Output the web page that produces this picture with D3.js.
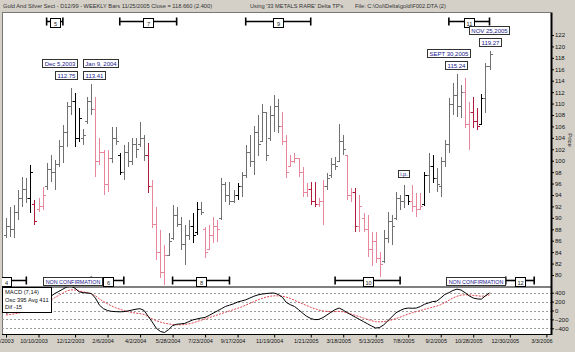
<!DOCTYPE html>
<html>
<head>
<meta charset="utf-8">
<title>Gold And Silver Sect - weekly bars</title>
<script src="https://cdn.jsdelivr.net/npm/d3@7"></script>
<style>
  body { margin: 0; background: #d4d0c8; }
  svg { display: block; font-family: "Liberation Sans", Arial, sans-serif; }
</style>
</head>
<body>
<svg id="chart" width="575" height="352"></svg>
<script>
// one bar per week, the first one is the week ending Fri 15 Aug 2003
var firstBar = "2003-08-15";

var highs = [
  90.0, 91.9, 92.2, 94.9, 97.2, 97.0, 99.2, 93.1, 93.5, 95.4,
  99.6, 101.0, 100.1, 103.6, 106.3, 110.3, 112.75, 111.8, 109.2, 105.5,
  111.1, 113.41, 111.1, 104.0, 101.9, 101.9, 105.9, 105.9, 101.3, 102.7,
  103.3, 104.0, 104.0, 106.8, 104.5, 103.1, 96.6, 91.9, 87.9, 85.2,
  87.3, 92.2, 91.9, 90.1, 88.7, 89.6, 90.8, 92.8, 92.8, 88.4,
  88.7, 90.1, 89.6, 97.0, 96.3, 96.3, 94.9, 96.1, 98.0, 102.7,
  104.5, 106.0, 108.0, 110.0, 108.5, 109.5, 111.5, 110.8, 108.5, 104.5,
  101.0, 101.3, 100.5, 98.9, 96.1, 96.3, 96.3, 93.5, 96.6, 97.8,
  100.5, 100.6, 106.5, 104.5, 101.0, 95.2, 95.2, 94.0, 90.8, 90.5,
  87.5, 87.5, 84.0, 87.9, 91.0, 90.5, 94.5, 94.0, 95.7, 94.0,
  95.7, 94.3, 94.3, 98.0, 101.3, 101.0, 98.7, 100.6, 103.6, 111.0,
  113.6, 115.24, 113.2, 114.5, 110.3, 111.1, 109.2, 111.7, 117.1, 119.27
];
var lows = [
  86.5, 86.6, 86.5, 89.6, 91.9, 92.6, 90.8, 88.7, 91.0, 91.4,
  94.9, 96.3, 94.9, 98.9, 99.6, 102.4, 108.0, 102.4, 103.3, 102.8,
  106.5, 108.0, 97.1, 99.2, 94.0, 94.5, 99.6, 102.8, 97.5, 96.6,
  98.9, 99.2, 100.5, 102.4, 100.0, 94.3, 88.2, 82.6, 79.5, 78.3,
  83.5, 86.1, 88.4, 84.4, 81.7, 86.1, 85.6, 87.0, 90.5, 83.0,
  84.4, 85.6, 85.8, 89.6, 92.8, 92.2, 92.6, 93.1, 93.6, 97.0,
  98.9, 97.5, 100.8, 103.3, 99.9, 103.5, 105.0, 104.8, 102.7, 97.0,
  98.9, 99.6, 97.1, 93.6, 93.6, 92.2, 91.9, 91.9, 88.7, 94.9,
  97.0, 98.4, 99.8, 101.0, 93.1, 92.8, 87.5, 87.5, 87.5, 83.1,
  81.5, 82.1, 79.6, 82.1, 85.6, 85.2, 89.6, 91.4, 91.7, 92.2,
  91.0, 90.1, 91.4, 92.0, 94.3, 96.1, 94.5, 93.6, 98.9, 101.3,
  108.0, 107.6, 107.5, 105.7, 101.9, 105.7, 105.4, 106.2, 108.4, 115.9
];
var opens = [
  87.0, 88.5, 88.0, 91.0, 93.5, 95.0, 93.5, 92.5, 91.5, 92.0,
  95.5, 98.5, 98.0, 99.5, 102.5, 105.0, 109.5, 110.5, 104.0, 104.0,
  107.0, 110.5, 109.0, 100.0, 101.5, 96.0, 100.5, 104.0, 101.0, 98.0,
  101.5, 100.0, 103.0, 103.0, 104.0, 101.0, 95.5, 89.0, 84.0, 80.5,
  83.5, 86.5, 90.5, 89.0, 85.5, 87.0, 88.5, 87.5, 91.5, 88.0,
  84.5, 87.0, 88.5, 90.0, 96.0, 94.0, 93.0, 94.0, 95.5, 97.5,
  101.5, 100.0, 105.0, 103.5, 108.5, 104.0, 108.0, 109.5, 106.0, 103.5,
  99.0, 100.0, 100.5, 98.0, 94.5, 95.0, 93.0, 92.5, 93.0, 95.5,
  97.5, 99.5, 100.0, 103.5, 101.0, 94.0, 94.5, 88.5, 90.0, 88.0,
  84.5, 86.0, 83.0, 82.5, 86.5, 89.5, 90.0, 93.5, 93.0, 94.0,
  93.0, 92.0, 91.5, 92.5, 97.5, 99.0, 97.0, 95.5, 100.0, 103.0,
  110.0, 111.5, 109.5, 112.0, 106.5, 108.5, 107.0, 106.5, 111.0, 116.5
];
var closes = [
  88.5, 88.0, 91.0, 93.5, 95.0, 93.5, 98.0, 89.5, 92.0, 94.0,
  98.5, 98.0, 99.5, 102.5, 105.0, 109.5, 110.5, 104.0, 107.5, 104.5,
  110.5, 109.0, 100.0, 101.5, 96.0, 100.5, 104.0, 103.5, 98.0, 101.5,
  100.0, 103.0, 102.0, 104.0, 101.0, 95.5, 89.0, 84.0, 80.5, 83.5,
  86.0, 90.5, 89.0, 85.5, 87.0, 88.5, 87.0, 91.5, 91.0, 84.0,
  87.0, 88.5, 88.0, 96.0, 94.0, 93.0, 94.0, 95.5, 97.5, 101.5,
  100.0, 105.0, 103.0, 108.5, 101.0, 108.0, 109.5, 106.0, 103.5, 98.0,
  100.0, 100.5, 98.0, 94.5, 95.0, 93.0, 92.5, 93.0, 95.5, 97.0,
  99.5, 99.0, 103.5, 102.0, 94.0, 94.5, 88.5, 92.0, 88.0, 84.5,
  86.0, 83.0, 82.0, 86.5, 89.5, 88.5, 93.5, 93.0, 94.0, 93.0,
  92.0, 91.5, 92.0, 97.5, 99.0, 97.0, 96.0, 100.0, 103.0, 110.0,
  111.5, 109.5, 112.0, 106.5, 108.5, 107.0, 106.0, 111.0, 116.5, 118.66
];
// g = grey, k = black, p = pink, r = dark red (ten bars per group)
var barKinds = (
  "ggggggkrpp gggggggkkg ggppppggkg gggggrpppp ggggggkkgp " +
  "pppggggkgg ggggggggpp ppppprrppg ggggpprppp pppggggggk " +
  "pppkgkgggg gggpprrkgg").replace(/ /g, "").split("");

var macd = [
  -60, -40, -20, 20, 80, 120, 160, 140, 130, 150,
  220, 320, 380, 430, 480, 530, 545, 500, 420, 400,
  395, 380, 280, 120, 40, 0, -20, -25, -30, -25,
  -10, 10, 30, 40, 0, -130, -260, -400, -470, -495,
  -430, -340, -310, -300, -290, -250, -210, -190, -170, -155,
  -110, -60, -10, 40, 90, 120, 150, 190, 215, 240,
  280, 320, 350, 370, 380, 390, 392, 360, 300, 180,
  130, 90, 20, -60, -130, -180, -205, -200, -160, -100,
  -40, 20, 55, 10, -50, -100, -150, -200, -250, -300,
  -350, -395, -380, -320, -230, -140, -50, 0, 40, 55,
  50, 55, 90, 140, 170, 200, 210, 280, 360, 400,
  450, 480, 460, 400, 330, 280, 260, 255, 330, 395
];
var macdAvg = [
  -100, -90, -75, -60, -40, -10, 30, 60, 90, 120,
  170, 230, 290, 340, 390, 440, 465, 460, 440, 420,
  400, 380, 330, 260, 200, 150, 100, 60, 30, 0,
  -25, -45, -60, -70, -90, -140, -190, -230, -260, -285,
  -300, -315, -320, -322, -315, -300, -280, -250, -220, -190,
  -160, -130, -100, -70, -40, -10, 20, 50, 80, 120,
  160, 200, 240, 270, 300, 320, 330, 330, 320, 300,
  270, 230, 190, 150, 110, 75, 40, 10, -10, -20,
  -25, -25, -20, -30, -50, -80, -110, -140, -170, -200,
  -230, -250, -255, -250, -235, -210, -180, -150, -115, -80,
  -50, -25, 0, 25, 50, 75, 100, 130, 180, 230,
  280, 320, 345, 355, 350, 340, 330, 320, 330, 350
];

var dateTicks = ["2003-08-15", "2003-10-10", "2003-12-12", "2004-02-06", "2004-04-02",
  "2004-05-28", "2004-07-23", "2004-09-17", "2004-11-19", "2005-01-21", "2005-03-18",
  "2005-05-13", "2005-07-08", "2005-09-02", "2005-10-28", "2005-12-30", "2006-03-03"];
var priceTicks = [80, 82, 84, 86, 88, 90, 92, 94, 96, 98, 100, 102, 104, 106, 108, 110,
  112, 114, 116, 118, 120, 122];
var macdTicks = [-400, -200, 0, 200, 400];

// cycle windows (Delta turning points)
var cycleNums  = ["4", "5", "6", "7", "8", "9", "10", "11", "12"];
var cycleRow   = ["bottom", "top", "bottom", "top", "bottom", "top", "bottom", "top", "bottom"];
var cycleStart = ["2003-07-11", "2003-10-24", "2004-01-09", "2004-02-27", "2004-05-28",
  "2004-10-01", "2005-03-04", "2005-09-16", "2005-12-23"];
var cycleEnd   = ["2003-09-19", "2003-11-21", "2004-03-05", "2004-06-04", "2004-09-03",
  "2005-01-21", "2005-06-24", "2005-11-25", "2006-02-10"];
var nonConfDates = ["2003-12-07", "2005-11-01"];

// called highs
var callDates  = ["2003-12-05", "2004-01-09", "2005-09-30", "2005-11-25"];
var callTitles = ["Dec 5,2003", "Jan 9, 2004", "SEPT 30,2005", "NOV 25,2005"];
var callPrices = [112.75, 113.41, 115.24, 119.27];
var noteDates  = ["2005-07-01"];
var noteTexts  = ["i.p."];
var notePrices = [95.7];

var svg = d3.select("#chart");
var plotL = 2, plotR = 551, plotT = 12.5, plotSplit = 287, plotB = 334.5;

var parseDate = d3.timeParse("%Y-%m-%d");
var start = parseDate(firstBar);
var weeks = highs.map(function(d, i) { return d3.timeDay.offset(start, 7 * i); });

var x = d3.scaleTime()
    .domain([start, weeks[weeks.length - 1]])
    .range([6, 489.5]);
var y = d3.scaleLinear().domain([80, 122]).range([275, 35]);
var ym = d3.scaleLinear().domain([-400, 400]).range([328.3, 292.7]);

// backgrounds and clips
svg.append("rect").attr("width", 575).attr("height", 352).attr("fill", "#d4d0c8");
svg.append("rect")
    .attr("x", plotL).attr("y", plotT)
    .attr("width", plotR - plotL).attr("height", plotB - plotT)
    .attr("fill", "#fff");

var defs = svg.append("defs");
defs.append("clipPath").attr("id", "price-clip").append("rect")
    .attr("x", plotL).attr("y", plotT).attr("width", plotR - plotL).attr("height", plotSplit - plotT);
defs.append("clipPath").attr("id", "macd-clip").append("rect")
    .attr("x", plotL).attr("y", plotSplit).attr("width", plotR - plotL).attr("height", plotB - plotSplit);

// title strip
var title = svg.append("g").attr("font-size", 5.7).attr("fill", "#333");
title.append("text").attr("x", 3).attr("y", 7.5)
    .text("Gold And Silver Sect - D12/99  - WEEKLY Bars  11/25/2005 Close = 118.660 (2.400)");
title.append("text").attr("x", 250).attr("y", 7.5).text("Using '33 METALS RARE' Delta TP's");
title.append("text").attr("x", 355).attr("y", 7.5).text("File: C:\\Ool\\Delta\\gold\\F002.DTA (2)");

// frame
svg.append("line").attr("x1", plotL).attr("x2", plotR).attr("y1", plotT).attr("y2", plotT)
    .attr("stroke", "#777");
svg.append("line").attr("x1", plotL + 0.5).attr("x2", plotL + 0.5).attr("y1", plotT).attr("y2", plotB)
    .attr("stroke", "#777");
svg.append("line").attr("x1", plotL).attr("x2", plotR).attr("y1", plotSplit).attr("y2", plotSplit)
    .attr("stroke", "#000");

// OHLC bars
var barColor = { g: "#707070", k: "#000000", p: "#e8869b", r: "#b01c3c" };

var bar = svg.append("g")
    .attr("clip-path", "url(#price-clip)")
    .attr("shape-rendering", "crispEdges")
  .selectAll("g")
  .data(weeks)
  .enter().append("g")
    .attr("stroke", function(d, i) { return barColor[barKinds[i]]; })
    .attr("transform", function(d) { return "translate(" + (Math.round(x(d)) + 0.5) + ",0)"; });

bar.append("line")
    .attr("y1", function(d, i) { return y(highs[i]); })
    .attr("y2", function(d, i) { return y(lows[i]); });
bar.append("line")
    .attr("x1", -2.5).attr("x2", 0)
    .attr("y1", function(d, i) { return Math.round(y(opens[i])) + 0.5; })
    .attr("y2", function(d, i) { return Math.round(y(opens[i])) + 0.5; });
bar.append("line")
    .attr("x1", 0).attr("x2", 2.5)
    .attr("y1", function(d, i) { return Math.round(y(closes[i])) + 0.5; })
    .attr("y2", function(d, i) { return Math.round(y(closes[i])) + 0.5; });

// boxed label helper
function boxLabel(parent, px, bottomY, str, anchor, opt) {
  var g = parent.append("g");
  var t = g.append("text")
      .attr("font-size", opt.size)
      .attr("fill", opt.color)
      .attr("text-anchor", "middle")
      .text(str);
  var w = Math.max(opt.minW || 0, Math.round(t.node().getComputedTextLength() + opt.pad));
  var h = opt.h;
  var x0 = anchor == "end" ? px - w : anchor == "start" ? px : px - w / 2;
  x0 = Math.round(x0) + 0.5;
  var y0 = Math.round(bottomY - h) + 0.5;
  g.insert("rect", "text")
      .attr("x", x0).attr("y", y0)
      .attr("width", w).attr("height", h)
      .attr("fill", "#fff")
      .attr("stroke", opt.stroke)
      .attr("stroke-width", 1);
  t.attr("x", x0 + w / 2).attr("y", y0 + h - 2);
  return g;
}

// cycle markers
var markY = { top: 21.5, bottom: 280.5 };
var marks = svg.append("g").attr("clip-path", "url(#price-clip)");
cycleNums.forEach(function(n, i) {
  var yy = markY[cycleRow[i]];
  var x0 = x(parseDate(cycleStart[i])), x1 = x(parseDate(cycleEnd[i]));
  var g = marks.append("g").attr("stroke", "#000").attr("stroke-width", 1.6);
  g.append("line").attr("x1", x0).attr("x2", x1).attr("y1", yy).attr("y2", yy);
  g.append("line").attr("x1", x0).attr("x2", x0).attr("y1", yy - 4).attr("y2", yy + 4);
  g.append("line").attr("x1", x1).attr("x2", x1).attr("y1", yy - 4).attr("y2", yy + 4);
  boxLabel(marks, (x0 + x1) / 2, yy + 5, n, "middle",
      { size: 5.6, color: "#222", pad: 4, minW: 10, h: 9, stroke: "#000" });
});

nonConfDates.forEach(function(d) {
  boxLabel(marks, x(parseDate(d)), markY.bottom + 4, "NON CONFIRMATION", "middle",
      { size: 5.4, color: "#20208c", pad: 4, h: 8, stroke: "#333" });
});

// called highs
var calls = svg.append("g");
var callAnchor = ["end", "start", "middle", "middle"];
var titleDx = [6, -8, -8, -1];
var priceDx = [6, -8, -1, 0];
callDates.forEach(function(d, i) {
  var px = x(parseDate(d));
  var level = i < 2 ? Math.max(callPrices[0], callPrices[1]) : callPrices[i];
  var priceBottom = y(level) - 5;
  boxLabel(calls, px + priceDx[i], priceBottom, d3.format(".2f")(callPrices[i]), callAnchor[i],
      { size: 6, color: "#20208c", pad: 4, h: 8, stroke: "#333" });
  boxLabel(calls, px + titleDx[i], priceBottom - 12, callTitles[i], callAnchor[i],
      { size: 6, color: "#20208c", pad: 4, h: 8, stroke: "#333" });
});
noteDates.forEach(function(d, i) {
  boxLabel(calls, x(parseDate(d)) - 1, y(notePrices[i]) - 8, noteTexts[i], "middle",
      { size: 5.6, color: "#20208c", pad: 4, h: 7, stroke: "#333" });
});

// MACD panel
var macdG = svg.append("g").attr("clip-path", "url(#macd-clip)");
macdG.selectAll(".grid")
  .data(macdTicks)
  .enter().append("line")
    .attr("class", "grid")
    .attr("x1", plotL).attr("x2", plotR)
    .attr("y1", function(d) { return Math.round(ym(d)) + 0.5; })
    .attr("y2", function(d) { return Math.round(ym(d)) + 0.5; })
    .attr("stroke", "#9a9a9a")
    .attr("stroke-dasharray", "2,2");

var macdLine = d3.line()
    .x(function(d, i) { return x(weeks[i]); })
    .y(function(d) { return ym(d); });

macdG.append("path")
    .datum(macdAvg)
    .attr("d", macdLine)
    .attr("fill", "none")
    .attr("stroke", "#e0303a")
    .attr("stroke-width", 0.9)
    .attr("stroke-dasharray", "2,1.2");
macdG.append("path")
    .datum(macd)
    .attr("d", macdLine)
    .attr("fill", "none")
    .attr("stroke", "#000")
    .attr("stroke-width", 1);

var info = svg.append("g");
info.append("rect")
    .attr("x", plotL + 0.5).attr("y", plotSplit + 0.5)
    .attr("width", 49).attr("height", 25)
    .attr("fill", "#fff").attr("stroke", "#000");
info.selectAll("text")
  .data(["MACD (7,14)", "Osc 395 Avg 411", "Dif -15"])
  .enter().append("text")
    .attr("x", 5)
    .attr("y", function(d, i) { return plotSplit + 7 + i * 7.6; })
    .attr("font-size", 5.8)
    .attr("fill", "#111")
    .text(function(d) { return d; });

// right axes
var priceAxis = svg.append("g")
    .attr("transform", "translate(" + plotR + ",0)")
    .call(d3.axisRight(y).tickValues(priceTicks).tickSize(3).tickPadding(1)
      .tickFormat(d3.format("d")));
var macdAxis = svg.append("g")
    .attr("transform", "translate(" + plotR + ",0)")
    .call(d3.axisRight(ym).tickValues(macdTicks).tickSize(3).tickPadding(1)
      .tickFormat(d3.format("d")));
[priceAxis, macdAxis].forEach(function(a) {
  a.select(".domain").remove();
  a.selectAll("text").attr("font-size", 6).attr("font-family", null).attr("fill", "#111");
  a.selectAll("line").attr("stroke", "#000");
});
svg.append("line")
    .attr("x1", plotR + 0.5).attr("x2", plotR + 0.5)
    .attr("y1", plotT).attr("y2", plotB + 0.5)
    .attr("stroke", "#000").attr("stroke-width", 2);

svg.append("text")
    .attr("transform", "translate(568,140) rotate(90)")
    .attr("text-anchor", "middle")
    .attr("font-size", 6)
    .attr("fill", "#111")
    .text("Price");

// date axis
var dateAxis = svg.append("g")
    .attr("transform", "translate(0," + plotB + ")")
    .call(d3.axisBottom(x)
      .tickValues(dateTicks.map(parseDate))
      .tickSize(3).tickPadding(2)
      .tickFormat(d3.timeFormat("%-m/%-d/%Y")));
dateAxis.select(".domain").remove();
dateAxis.selectAll("line").attr("stroke", "#000");
dateAxis.selectAll("text")
    .attr("font-size", 5.5)
    .attr("font-family", null)
    .attr("fill", "#111")
    .attr("dx", -5);

svg.append("line")
    .attr("x1", plotL).attr("x2", plotR)
    .attr("y1", plotB).attr("y2", plotB)
    .attr("stroke", "#000");
</script>
</body>
</html>
